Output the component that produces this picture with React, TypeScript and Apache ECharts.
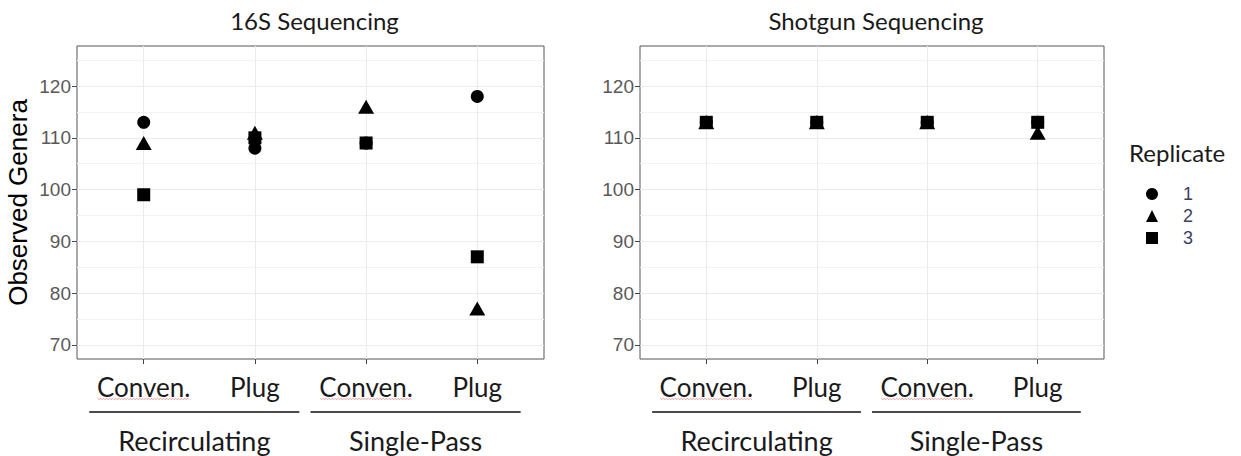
import React, { useEffect, useRef } from "react";
import * as echarts from "echarts";

const subCategories = ["Conven.", "Plug", "Conven.", "Plug"];
const groupLabels = ["Recirculating", "Single-Pass"];
const panelTitles = ["16S Sequencing", "Shotgun Sequencing"];
const replicates = ["1", "2", "3"];
const replicateSymbols = ["circle", "triangle", "rect"];
const yTicks = [70, 80, 90, 100, 110, 120];
const yMinorTicks = [75, 85, 95, 105, 115, 125];
const xPositions = [1, 2, 3, 4];

// 16S sequencing: values per replicate, in subCategories order
const s16Rep1 = [113, 108, 109, 118];
const s16Rep2 = [109, 111, 116, 77];
const s16Rep3 = [99, 110, 109, 87];
// Shotgun sequencing
const shotRep1 = [113, 113, 113, 113];
const shotRep2 = [113, 113, 113, 111];
const shotRep3 = [113, 113, 113, 113];

const panels = [
  { left: 77, width: 467, reps: [s16Rep1, s16Rep2, s16Rep3] },
  { left: 640, width: 464, reps: [shotRep1, shotRep2, shotRep3] },
];

const TOP = 46;
const HEIGHT = 313;
const X_MIN = 0.4;
const X_MAX = 4.6;
const Y_MIN = 67.25;
const Y_MAX = 127.75;

function wavy(x0: number, x1: number, y: number): number[][] {
  const pts: number[][] = [];
  let up = true;
  for (let x = x0; x <= x1; x += 1.5) {
    pts.push([x, up ? y - 0.8 : y + 0.8]);
    up = !up;
  }
  return pts;
}

export default function App() {
  const ref = useRef<HTMLDivElement>(null);

  useEffect(() => {
    if (!ref.current) return;
    const chart = echarts.init(ref.current, undefined, { renderer: "svg" });

    const grid = panels.map((p) => ({
      left: p.left,
      top: TOP,
      width: p.width,
      height: HEIGHT,
      show: true,
      borderColor: "#555",
      borderWidth: 1,
      backgroundColor: "transparent",
      containLabel: false,
    }));

    const xAxis = panels.map((_, gi) => ({
      type: "value",
      gridIndex: gi,
      min: X_MIN,
      max: X_MAX,
      axisLine: { show: false },
      axisTick: {
        show: true,
        length: 5,
        customValues: xPositions,
        lineStyle: { color: "#444", width: 1 },
      },
      axisLabel: {
        customValues: xPositions,
        margin: 15,
        formatter: (v: number) => subCategories[Math.round(v) - 1] ?? "",
        fontFamily: "Lato",
        fontSize: 26,
        color: "#1a1a1a",
      },
      splitLine: { show: true, lineStyle: { color: "#ebebeb", width: 1 } },
    }));

    const yAxisMain = panels.map((_, gi) => ({
      type: "value",
      gridIndex: gi,
      min: Y_MIN,
      max: Y_MAX,
      name: gi === 0 ? "Observed Genera" : "",
      nameLocation: "middle",
      nameRotate: 90,
      nameGap: 46,
      nameTextStyle: { fontFamily: "Liberation Sans", fontSize: 26, color: "#000" },
      axisLine: { show: false },
      axisTick: {
        show: true,
        length: 5,
        customValues: yTicks,
        lineStyle: { color: "#444", width: 1 },
      },
      axisLabel: {
        customValues: yTicks,
        margin: 6,
        fontFamily: "Liberation Sans",
        fontSize: 19,
        color: "#595959",
      },
      splitLine: { show: true, lineStyle: { color: "#ebebeb", width: 1.2 } },
    }));

    const yAxisMinor = panels.map((_, gi) => ({
      type: "value",
      gridIndex: gi,
      min: Y_MIN,
      max: Y_MAX,
      position: "left",
      axisLine: { show: false },
      axisTick: { show: false, customValues: yMinorTicks },
      axisLabel: { show: false, customValues: yMinorTicks },
      splitLine: { show: true, lineStyle: { color: "#f2f2f2", width: 1 } },
    }));

    const series: any[] = [];
    panels.forEach((p, gi) => {
      p.reps.forEach((vals, ri) => {
        series.push({
          type: "scatter",
          name: replicates[ri],
          xAxisIndex: gi,
          yAxisIndex: gi,
          symbol: replicateSymbols[ri],
          symbolSize: ri === 1 ? [16, 14] : ri === 0 ? 13 : 13,
          itemStyle: { color: "#000", opacity: 1 },
          emphasis: { disabled: true },
          data: vals.map((v, i) => [xPositions[i], v]),
          z: 3 + ri,
        });
      });
    });

    const graphic: any[] = [];
    panels.forEach((p, gi) => {
      graphic.push({
        type: "text",
        x: p.left + p.width / 2 + 4,
        y: 20,
        style: {
          text: panelTitles[gi],
          fontFamily: "Lato",
          fontSize: 24,
          fill: "#1a1a1a",
          align: "center",
          verticalAlign: "middle",
        },
      });
      const unit = p.width / (X_MAX - X_MIN);
      const px = (v: number) => p.left + (v - X_MIN) * unit;
      const groups = [
        [0.51, 2.4],
        [2.5, 4.39],
      ];
      groups.forEach((g, k) => {
        const x0 = px(g[0]);
        const x1 = px(g[1]);
        graphic.push({
          type: "line",
          shape: { x1: x0, y1: 412, x2: x1, y2: 412 },
          style: { stroke: "#111", lineWidth: 1.6 },
        });
        graphic.push({
          type: "text",
          x: (x0 + x1) / 2,
          y: 440,
          style: {
            text: groupLabels[k],
            fontFamily: "Lato",
            fontSize: 27,
            fill: "#1a1a1a",
            align: "center",
            verticalAlign: "middle",
          },
        });
      });
      [1, 3].forEach((c) => {
        const cx = px(c);
        graphic.push({
          type: "polyline",
          shape: { points: wavy(cx - 46, cx + 46, 399) },
          style: { stroke: "#e58a8a", lineWidth: 0.8, fill: null },
        });
      });
    });
    graphic.push({
      type: "text",
      x: 1129,
      y: 152,
      style: {
        text: "Replicate",
        fontFamily: "Lato",
        fontSize: 24,
        fill: "#1a1a1a",
        align: "left",
        verticalAlign: "middle",
      },
    });

    chart.setOption({
      animation: false,
      backgroundColor: "#fff",
      grid,
      xAxis,
      yAxis: [...yAxisMain, ...yAxisMinor],
      series,
      legend: {
        show: true,
        data: replicates,
        orient: "vertical",
        left: 1141,
        top: 180,
        itemWidth: 12,
        itemHeight: 12,
        itemGap: 4,
        selectedMode: false,
        textStyle: {
          fontFamily: "Liberation Sans",
          fontSize: 18,
          color: "#3d3d5c",
          padding: [0, 0, 0, 20],
        },
      },
      graphic,
    });

    return () => chart.dispose();
  }, []);

  return (
    <div
      ref={ref}
      style={{ position: "fixed", left: 0, top: 0, width: 1241, height: 456, background: "#fff" }}
    />
  );
}
